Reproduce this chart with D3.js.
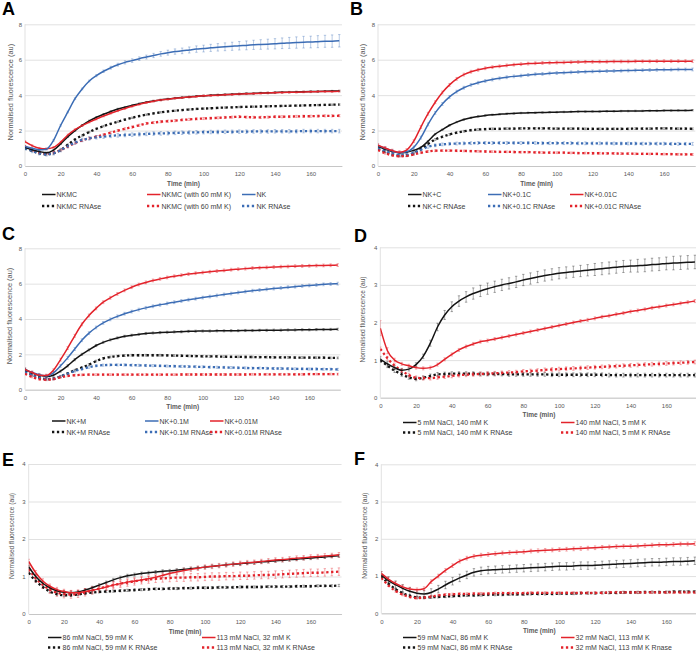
<!DOCTYPE html>
<html><head><meta charset="utf-8">
<script src="https://cdn.jsdelivr.net/npm/d3@7"></script>
<style>body{margin:0;background:#fff}svg{display:block}</style>
</head><body><svg id="c" width="696" height="652"></svg>
<script>
// ---------- DATA ----------
const times = [0,4,8,12,16,20,24,28,32,36,40,44,48,52,56,60,64,68,72,76,80,84,88,92,96,100,104,108,112,116,120,124,128,132,136,140,144,148,152,156,160,164,168,172,176];
const xTicks = [0,20,40,60,80,100,120,140,160];
const yTicks8 = [0,2,4,6,8];
const yTicks4 = [0,1,2,3,4];

// Panel A
const A_NKMC = [1.05,0.92,0.82,0.75,0.9,1.25,1.65,2.0,2.3,2.55,2.75,2.92,3.08,3.22,3.32,3.42,3.52,3.6,3.67,3.73,3.78,3.83,3.87,3.9,3.94,3.97,3.99,4.01,4.03,4.05,4.07,4.09,4.1,4.12,4.13,4.15,4.16,4.17,4.18,4.19,4.2,4.21,4.22,4.23,4.24];
const A_NKMC60 = [1.38,1.15,1.0,0.97,1.05,1.35,1.75,2.05,2.28,2.48,2.65,2.82,2.98,3.12,3.25,3.37,3.48,3.58,3.66,3.72,3.77,3.82,3.86,3.89,3.93,3.96,3.98,4.0,4.02,4.04,4.06,4.08,4.09,4.11,4.12,4.14,4.15,4.16,4.17,4.18,4.19,4.2,4.21,4.21,4.22];
const A_NK = [1.1,1.0,0.92,0.95,1.45,2.3,3.05,3.8,4.35,4.8,5.1,5.35,5.55,5.72,5.85,5.95,6.06,6.15,6.24,6.33,6.4,6.46,6.5,6.55,6.6,6.63,6.67,6.7,6.73,6.76,6.79,6.81,6.84,6.86,6.88,6.9,6.93,6.95,6.97,6.99,7.0,7.02,7.04,7.05,7.07];
const A_NK_err = [0.05,0.05,0.05,0.05,0.05,0.05,0.05,0.05,0.05,0.05,0.06,0.07,0.08,0.08,0.09,0.1,0.1,0.11,0.12,0.13,0.14,0.15,0.16,0.17,0.18,0.19,0.2,0.21,0.22,0.23,0.24,0.25,0.26,0.27,0.28,0.29,0.3,0.31,0.32,0.33,0.33,0.34,0.34,0.35,0.35];
const A_NKMC_R = [1.0,0.85,0.72,0.66,0.72,0.9,1.2,1.5,1.72,1.92,2.1,2.25,2.38,2.5,2.62,2.72,2.82,2.9,2.97,3.03,3.08,3.12,3.16,3.19,3.22,3.24,3.26,3.28,3.3,3.31,3.33,3.34,3.35,3.36,3.37,3.38,3.39,3.4,3.41,3.42,3.43,3.44,3.45,3.46,3.47];
const A_NKMC60_R = [1.1,0.9,0.75,0.7,0.75,0.9,1.1,1.3,1.45,1.56,1.66,1.76,1.88,2.0,2.1,2.2,2.3,2.4,2.45,2.5,2.53,2.56,2.6,2.63,2.66,2.68,2.7,2.72,2.74,2.76,2.78,2.76,2.75,2.75,2.76,2.78,2.78,2.79,2.8,2.81,2.81,2.82,2.83,2.83,2.84];
const A_NK_R = [1.0,0.85,0.72,0.66,0.72,0.9,1.12,1.32,1.47,1.56,1.62,1.66,1.7,1.73,1.75,1.77,1.79,1.81,1.83,1.84,1.85,1.87,1.88,1.89,1.9,1.91,1.92,1.92,1.93,1.93,1.94,1.94,1.95,1.95,1.95,1.96,1.96,1.96,1.96,1.97,1.97,1.97,1.97,1.97,1.97];

// Panel B
const B_C = [1.1,0.95,0.82,0.75,0.78,0.88,1.05,1.4,1.8,2.05,2.3,2.48,2.62,2.72,2.8,2.85,2.89,2.92,2.95,2.97,2.99,3.0,3.01,3.02,3.03,3.04,3.05,3.06,3.07,3.07,3.08,3.08,3.09,3.09,3.1,3.1,3.11,3.11,3.12,3.12,3.13,3.13,3.14,3.14,3.15];
const B_01C = [1.15,1.0,0.85,0.75,0.8,1.05,1.6,2.35,3.0,3.5,3.9,4.2,4.42,4.58,4.7,4.8,4.88,4.95,5.01,5.06,5.1,5.14,5.18,5.2,5.23,5.25,5.27,5.29,5.31,5.32,5.34,5.35,5.36,5.37,5.38,5.39,5.4,5.41,5.42,5.43,5.44,5.44,5.45,5.45,5.45];
const B_001C = [1.18,1.02,0.87,0.78,0.9,1.4,2.2,2.95,3.6,4.15,4.58,4.92,5.16,5.32,5.43,5.52,5.58,5.63,5.68,5.72,5.75,5.78,5.8,5.82,5.83,5.84,5.85,5.86,5.87,5.88,5.88,5.89,5.89,5.9,5.9,5.9,5.91,5.91,5.91,5.92,5.92,5.92,5.92,5.92,5.92];
const B_C_R = [0.95,0.8,0.65,0.58,0.6,0.72,0.95,1.25,1.5,1.65,1.78,1.88,1.96,2.02,2.06,2.08,2.1,2.1,2.11,2.11,2.12,2.12,2.12,2.12,2.12,2.11,2.11,2.11,2.11,2.1,2.1,2.1,2.1,2.1,2.1,2.1,2.11,2.11,2.11,2.12,2.12,2.12,2.11,2.11,2.1];
const B_01C_R = [1.0,0.85,0.7,0.62,0.63,0.75,0.92,1.08,1.17,1.22,1.25,1.27,1.28,1.29,1.3,1.3,1.3,1.3,1.3,1.3,1.3,1.3,1.3,1.29,1.29,1.29,1.29,1.29,1.28,1.28,1.28,1.28,1.28,1.27,1.27,1.27,1.27,1.26,1.26,1.26,1.26,1.25,1.25,1.25,1.25];
const B_001C_R = [0.9,0.72,0.6,0.55,0.57,0.65,0.75,0.82,0.86,0.87,0.87,0.86,0.85,0.84,0.83,0.82,0.81,0.8,0.8,0.79,0.78,0.78,0.77,0.76,0.76,0.75,0.75,0.74,0.73,0.73,0.72,0.72,0.71,0.71,0.7,0.7,0.69,0.69,0.68,0.68,0.67,0.67,0.66,0.66,0.65];

// Panel C
const C_M = [1.15,0.95,0.82,0.75,0.82,1.05,1.35,1.7,2.0,2.25,2.5,2.68,2.82,2.93,3.02,3.08,3.13,3.18,3.21,3.23,3.25,3.27,3.28,3.3,3.31,3.32,3.32,3.33,3.33,3.34,3.34,3.35,3.35,3.36,3.36,3.37,3.37,3.38,3.38,3.39,3.39,3.4,3.4,3.41,3.42];
const C_01M = [1.15,0.97,0.84,0.78,0.95,1.35,1.8,2.3,2.8,3.2,3.52,3.78,3.98,4.15,4.3,4.42,4.53,4.63,4.72,4.8,4.88,4.95,5.02,5.09,5.15,5.21,5.27,5.33,5.39,5.44,5.5,5.55,5.6,5.64,5.68,5.72,5.76,5.8,5.83,5.87,5.9,5.93,5.96,5.98,6.0];
const C_001M = [1.15,0.97,0.82,0.8,1.1,1.7,2.35,3.05,3.7,4.2,4.6,4.95,5.2,5.42,5.62,5.8,5.95,6.07,6.18,6.27,6.35,6.42,6.48,6.54,6.59,6.63,6.67,6.71,6.75,6.79,6.82,6.85,6.88,6.9,6.92,6.94,6.96,6.97,6.99,7.0,7.01,7.02,7.03,7.04,7.05];
const C_M_R = [1.05,0.85,0.7,0.6,0.62,0.75,0.92,1.1,1.25,1.42,1.62,1.77,1.85,1.9,1.93,1.95,1.95,1.95,1.95,1.95,1.94,1.93,1.92,1.91,1.9,1.89,1.88,1.88,1.87,1.86,1.86,1.85,1.85,1.84,1.84,1.83,1.83,1.83,1.82,1.82,1.82,1.81,1.81,1.8,1.8];
const C_01M_R = [1.0,0.82,0.68,0.6,0.62,0.75,0.9,1.05,1.17,1.27,1.35,1.39,1.4,1.4,1.4,1.39,1.38,1.37,1.36,1.35,1.34,1.33,1.32,1.31,1.3,1.29,1.28,1.27,1.26,1.25,1.24,1.23,1.22,1.22,1.21,1.2,1.2,1.19,1.18,1.18,1.17,1.17,1.16,1.16,1.15];
const C_001M_R = [0.9,0.72,0.6,0.56,0.6,0.7,0.78,0.82,0.84,0.85,0.85,0.85,0.85,0.85,0.85,0.85,0.85,0.85,0.85,0.85,0.85,0.85,0.86,0.86,0.86,0.86,0.86,0.86,0.86,0.86,0.86,0.86,0.87,0.87,0.87,0.87,0.87,0.87,0.87,0.87,0.88,0.88,0.88,0.88,0.88];

// Panel D
const D_K = [1.02,0.9,0.8,0.73,0.76,0.88,1.1,1.45,1.88,2.2,2.42,2.57,2.68,2.77,2.84,2.9,2.95,3.0,3.04,3.08,3.13,3.17,3.21,3.25,3.28,3.31,3.33,3.35,3.37,3.39,3.41,3.43,3.45,3.47,3.49,3.5,3.51,3.52,3.54,3.55,3.57,3.58,3.59,3.6,3.61];
const D_K_err = [0.08,0.06,0.05,0.05,0.05,0.05,0.06,0.08,0.1,0.12,0.13,0.14,0.14,0.15,0.15,0.15,0.15,0.15,0.15,0.15,0.15,0.15,0.15,0.15,0.15,0.15,0.15,0.15,0.15,0.15,0.16,0.16,0.16,0.16,0.16,0.16,0.17,0.17,0.17,0.17,0.17,0.18,0.18,0.18,0.18];
const D_Na = [1.85,1.25,1.0,0.9,0.85,0.8,0.78,0.8,0.88,1.02,1.15,1.27,1.36,1.43,1.49,1.52,1.56,1.6,1.64,1.68,1.72,1.76,1.8,1.84,1.88,1.92,1.96,2.0,2.04,2.07,2.11,2.15,2.18,2.22,2.25,2.29,2.32,2.35,2.39,2.42,2.45,2.48,2.51,2.54,2.57];
const D_Na_err = [0.2,0.08,0.05,0.04,0.04,0.04,0.04,0.04,0.04,0.04,0.04,0.04,0.04,0.04,0.04,0.04,0.04,0.04,0.04,0.04,0.04,0.04,0.04,0.04,0.04,0.04,0.04,0.04,0.04,0.04,0.04,0.04,0.04,0.04,0.04,0.04,0.04,0.04,0.04,0.04,0.04,0.04,0.04,0.04,0.04];
const D_K_R = [1.0,0.85,0.72,0.62,0.54,0.5,0.53,0.58,0.62,0.63,0.64,0.64,0.64,0.64,0.63,0.63,0.63,0.63,0.62,0.62,0.62,0.62,0.62,0.62,0.61,0.61,0.61,0.61,0.61,0.61,0.61,0.61,0.6,0.6,0.6,0.6,0.6,0.6,0.6,0.6,0.6,0.6,0.6,0.6,0.6];
const D_Na_R = [1.3,1.05,0.85,0.72,0.6,0.53,0.52,0.52,0.54,0.56,0.58,0.6,0.61,0.62,0.63,0.64,0.65,0.66,0.67,0.68,0.7,0.71,0.72,0.74,0.75,0.76,0.77,0.78,0.79,0.8,0.81,0.82,0.83,0.84,0.85,0.86,0.87,0.88,0.89,0.9,0.91,0.92,0.93,0.94,0.95];

// Panel E
const E_59K = [1.26,1.0,0.82,0.7,0.62,0.58,0.57,0.59,0.64,0.7,0.77,0.84,0.91,0.97,1.02,1.05,1.08,1.1,1.12,1.14,1.15,1.17,1.19,1.21,1.23,1.25,1.27,1.29,1.31,1.33,1.34,1.36,1.37,1.39,1.4,1.42,1.43,1.45,1.46,1.48,1.49,1.51,1.52,1.54,1.55];
const E_32K = [1.4,1.1,0.88,0.74,0.65,0.6,0.57,0.57,0.6,0.63,0.67,0.72,0.77,0.81,0.85,0.88,0.91,0.94,0.98,1.03,1.08,1.12,1.16,1.19,1.22,1.25,1.27,1.29,1.31,1.33,1.35,1.37,1.38,1.4,1.42,1.44,1.45,1.47,1.49,1.5,1.52,1.53,1.55,1.56,1.58];
const E_59K_R = [1.1,0.88,0.72,0.6,0.53,0.5,0.5,0.52,0.55,0.57,0.59,0.6,0.61,0.62,0.63,0.64,0.65,0.66,0.67,0.67,0.68,0.68,0.69,0.69,0.7,0.7,0.7,0.71,0.71,0.71,0.72,0.72,0.72,0.72,0.73,0.73,0.73,0.73,0.74,0.74,0.74,0.75,0.75,0.75,0.76];
const E_32K_R = [1.2,0.95,0.78,0.65,0.57,0.53,0.52,0.54,0.58,0.63,0.68,0.73,0.77,0.81,0.84,0.87,0.9,0.92,0.94,0.95,0.96,0.97,0.97,0.98,0.98,0.99,1.0,1.0,1.01,1.01,1.02,1.02,1.03,1.04,1.04,1.05,1.06,1.07,1.08,1.09,1.1,1.1,1.11,1.12,1.13];

// Panel F
const F_86K = [1.02,0.88,0.77,0.67,0.59,0.54,0.52,0.56,0.65,0.76,0.86,0.95,1.03,1.1,1.14,1.16,1.17,1.18,1.19,1.2,1.21,1.22,1.23,1.24,1.25,1.26,1.26,1.27,1.28,1.28,1.29,1.3,1.31,1.32,1.33,1.34,1.35,1.36,1.37,1.37,1.38,1.39,1.39,1.4,1.41];
const F_113K = [1.07,0.92,0.8,0.71,0.65,0.63,0.66,0.85,1.0,1.15,1.28,1.4,1.48,1.53,1.56,1.58,1.6,1.62,1.63,1.64,1.65,1.67,1.68,1.69,1.7,1.71,1.72,1.73,1.74,1.75,1.76,1.77,1.78,1.79,1.8,1.8,1.81,1.82,1.83,1.84,1.84,1.85,1.86,1.86,1.87];
const F_86K_R = [1.0,0.8,0.65,0.54,0.47,0.43,0.42,0.43,0.44,0.45,0.46,0.47,0.48,0.48,0.49,0.5,0.5,0.5,0.51,0.51,0.51,0.52,0.52,0.52,0.52,0.53,0.53,0.53,0.54,0.54,0.54,0.55,0.55,0.55,0.56,0.56,0.56,0.57,0.57,0.57,0.57,0.58,0.58,0.58,0.58];
const F_113K_R = [0.95,0.75,0.6,0.5,0.44,0.41,0.42,0.45,0.48,0.5,0.51,0.52,0.52,0.53,0.53,0.53,0.54,0.54,0.54,0.54,0.54,0.55,0.55,0.55,0.55,0.55,0.55,0.55,0.55,0.55,0.55,0.55,0.56,0.56,0.56,0.56,0.56,0.56,0.56,0.56,0.56,0.56,0.56,0.56,0.56];

// ---------- STYLE / LAYOUT ----------
const COL = {k:"#141414", b:"#3c6db5", r:"#e3232b"};
const FONT = "'Liberation Sans', Arial, sans-serif";

const panels = [
 {letter:"A", lx:2, ly:15, left:25, x160:310.7, top:24.3, bottom:166, yt:yTicks8, titleX:10.5, tsize:7.4, legX:[42,147,242], legY:[194.5,206],
  series:[
   {v:A_NKMC, c:"k", dot:false, e:0.04, name:"NKMC"},
   {v:A_NKMC60, c:"r", dot:false, e:0.05, name:"NKMC (with 60 mM K)"},
   {v:A_NK, c:"b", dot:false, e:A_NK_err, name:"NK"},
   {v:A_NKMC_R, c:"k", dot:true, e:0.04, name:"NKMC RNAse"},
   {v:A_NKMC60_R, c:"r", dot:true, e:0.06, name:"NKMC (with 60 mM K)"},
   {v:A_NK_R, c:"b", dot:true, e:0.1, name:"NK RNAse"}]},
 {letter:"B", lx:350, ly:15, left:378, x160:664, top:24.3, bottom:166, yt:yTicks8, titleX:362.5, tsize:7.4, legX:[408,488,570], legY:[194.5,206],
  series:[
   {v:B_C, c:"k", dot:false, e:0.04, name:"NK+C"},
   {v:B_01C, c:"b", dot:false, e:0.08, name:"NK+0.1C"},
   {v:B_001C, c:"r", dot:false, e:0.08, name:"NK+0.01C"},
   {v:B_C_R, c:"k", dot:true, e:0.05, name:"NK+C RNAse"},
   {v:B_01C_R, c:"b", dot:true, e:0.08, name:"NK+0.1C RNAse"},
   {v:B_001C_R, c:"r", dot:true, e:0.05, name:"NK+0.01C RNAse"}]},
 {letter:"C", lx:2, ly:240, left:25, x160:309.3, top:248.3, bottom:389.7, yt:yTicks8, titleX:9.5, tsize:7.4, legX:[52,145,210], legY:[421,432],
  series:[
   {v:C_M, c:"k", dot:false, e:0.06, name:"NK+M"},
   {v:C_01M, c:"b", dot:false, e:0.08, name:"NK+0.1M"},
   {v:C_001M, c:"r", dot:false, e:0.08, name:"NK+0.01M"},
   {v:C_M_R, c:"k", dot:true, e:0.05, name:"NK+M RNAse"},
   {v:C_01M_R, c:"b", dot:true, e:0.06, name:"NK+0.1M RNAse"},
   {v:C_001M_R, c:"r", dot:true, e:0.05, name:"NK+0.01M RNAse"}]},
 {letter:"D", lx:354, ly:242, left:380.3, x160:666.3, top:247.3, bottom:397.7, yt:yTicks4, titleX:362.5, tsize:6.6, legX:[403,561], legY:[422.5,432.5],
  series:[
   {v:D_K, c:"k", dot:false, e:D_K_err, name:"5 mM NaCl, 140 mM K"},
   {v:D_Na, c:"r", dot:false, e:D_Na_err, name:"140 mM NaCl, 5 mM K"},
   {v:D_K_R, c:"k", dot:true, e:0.05, name:"5 mM NaCl, 140 mM K RNAse"},
   {v:D_Na_R, c:"r", dot:true, e:0.05, name:"140 mM NaCl, 5 mM K RNAse"}]},
 {letter:"E", lx:2, ly:466, left:28.7, x160:310.7, top:464, bottom:614, yt:yTicks4, titleX:11.5, tsize:6.6, legX:[48,202], legY:[637.5,647.5],
  series:[
   {v:E_59K, c:"k", dot:false, e:0.04, name:"86 mM NaCl, 59 mM K"},
   {v:E_32K, c:"r", dot:false, e:0.06, name:"113 mM NaCl, 32 mM K"},
   {v:E_59K_R, c:"k", dot:true, e:0.03, name:"86 mM NaCl, 59 mM K RNAse"},
   {v:E_32K_R, c:"r", dot:true, e:0.1, name:"113 mM NaCl, 32 mM K RNAse"}]},
 {letter:"F", lx:354, ly:465, left:381.3, x160:666.3, top:464.3, bottom:613.3, yt:yTicks4, titleX:365, tsize:6.6, legX:[403,561], legY:[637.5,647.5],
  series:[
   {v:F_86K, c:"k", dot:false, e:0.1, name:"59 mM NaCl, 86 mM K"},
   {v:F_113K, c:"r", dot:false, e:0.05, name:"32 mM NaCl, 113 mM K"},
   {v:F_86K_R, c:"k", dot:true, e:0.03, name:"59 mM NaCl, 86 mM K RNAse"},
   {v:F_113K_R, c:"r", dot:true, e:0.03, name:"32 mM NaCl, 113 mM K Rnase"}]}
];

const svg = d3.select("#c");
const XMAX = 177.5;

panels.forEach((p, pi) => {
  const k = (p.x160 - p.left) / 160;
  const x = d3.scaleLinear().domain([0, XMAX]).range([p.left, p.left + XMAX * k]);
  const ymax = p.yt[p.yt.length - 1];
  const y = d3.scaleLinear().domain([0, ymax]).range([p.bottom, p.top]);
  const g = svg.append("g");
  const w = x(XMAX) - p.left;

  const cid = "clip" + pi;
  svg.append("clipPath").attr("id", cid).append("rect")
    .attr("x", p.left).attr("y", p.top - 10).attr("width", Math.min(w, 696 - p.left)).attr("height", p.bottom - p.top + 10);

  // y axis with gridlines
  const ya = g.append("g").attr("transform", `translate(${p.left},0)`)
    .call(d3.axisLeft(y).tickValues(p.yt).tickSize(-w).tickPadding(3).tickFormat(d3.format("d")));
  ya.select(".domain").remove();
  ya.selectAll(".tick line").attr("stroke", "#d9d9d9").attr("stroke-width", 0.8);
  ya.selectAll(".tick text").attr("fill", "#595959").style("font", `6px ${FONT}`);

  // left vertical axis line
  g.append("line").attr("x1", p.left).attr("x2", p.left).attr("y1", p.top).attr("y2", p.bottom)
    .attr("stroke", "#d9d9d9").attr("stroke-width", 0.8);

  // x axis
  const xa = g.append("g").attr("transform", `translate(0,${p.bottom})`)
    .call(d3.axisBottom(x).tickValues(xTicks).tickSize(0).tickPadding(6));
  xa.select(".domain").attr("stroke", "#bfbfbf").attr("stroke-width", 0.8);
  xa.selectAll(".tick text").attr("fill", "#595959").style("font", `6px ${FONT}`);

  // titles
  g.append("text").attr("x", (p.left + p.left + w) / 2).attr("y", p.bottom + 19.5)
    .attr("text-anchor", "middle").attr("fill", "#595959")
    .style("font", `bold 6.5px ${FONT}`).text("Time (min)");
  const cy = (p.top + p.bottom) / 2 - 3;
  g.append("text").attr("transform", `translate(${p.titleX + 2.4},${cy}) rotate(-90)`)
    .attr("text-anchor", "middle").attr("fill", "#595959")
    .style("font", `${p.tsize}px ${FONT}`).text("Normalised fluorescence (au)");

  // panel letter
  svg.append("text").attr("x", p.lx).attr("y", p.ly).attr("fill", "#000")
    .style("font", `bold 18px ${FONT}`).text(p.letter);

  const plot = g.append("g").attr("clip-path", `url(#${cid})`);

  // error bars
  p.series.forEach(s => {
    const errAt = i => Array.isArray(s.e) ? s.e[i] : s.e;
    let d = "";
    times.forEach((t, i) => {
      const xv = x(t), e = errAt(i);
      const y1 = y(s.v[i] - e), y2 = y(s.v[i] + e);
      d += `M${xv},${y1}V${y2}M${xv - 1.2},${y1}H${xv + 1.2}M${xv - 1.2},${y2}H${xv + 1.2}`;
    });
    plot.append("path").attr("d", d).attr("fill", "none")
      .attr("stroke", COL[s.c]).attr("stroke-opacity", 0.6).attr("stroke-width", 0.6);
  });

  // lines (dotted first, solid on top)
  const line = d3.line().x((d, i) => x(times[i])).y(d => y(d)).curve(d3.curveMonotoneX);
  const order = p.series.filter(s => s.dot).concat(p.series.filter(s => !s.dot));
  order.forEach(s => {
    const path = plot.append("path").attr("d", line(s.v)).attr("fill", "none")
      .attr("stroke", COL[s.c]);
    if (s.dot) path.attr("stroke-width", 2.3).attr("stroke-dasharray", "2.3,2.6");
    else path.attr("stroke-width", 1.5);
  });

  // legend
  const solids = p.series.filter(s => !s.dot), dots = p.series.filter(s => s.dot);
  [solids, dots].forEach((row, ri) => {
    row.forEach((s, ci) => {
      const lx = p.legX[ci], ly = p.legY[ri];
      const l = g.append("line").attr("x1", lx).attr("x2", lx + 13.5).attr("y1", ly).attr("y2", ly)
        .attr("stroke", COL[s.c]);
      if (s.dot) l.attr("stroke-width", 2.3).attr("stroke-dasharray", "2.3,2.6");
      else l.attr("stroke-width", 1.5);
      g.append("text").attr("x", lx + 14.5).attr("y", ly + 2.5).attr("fill", "#404040")
        .style("font", `7px ${FONT}`).text(s.name);
    });
  });
});
</script>
</body></html>
